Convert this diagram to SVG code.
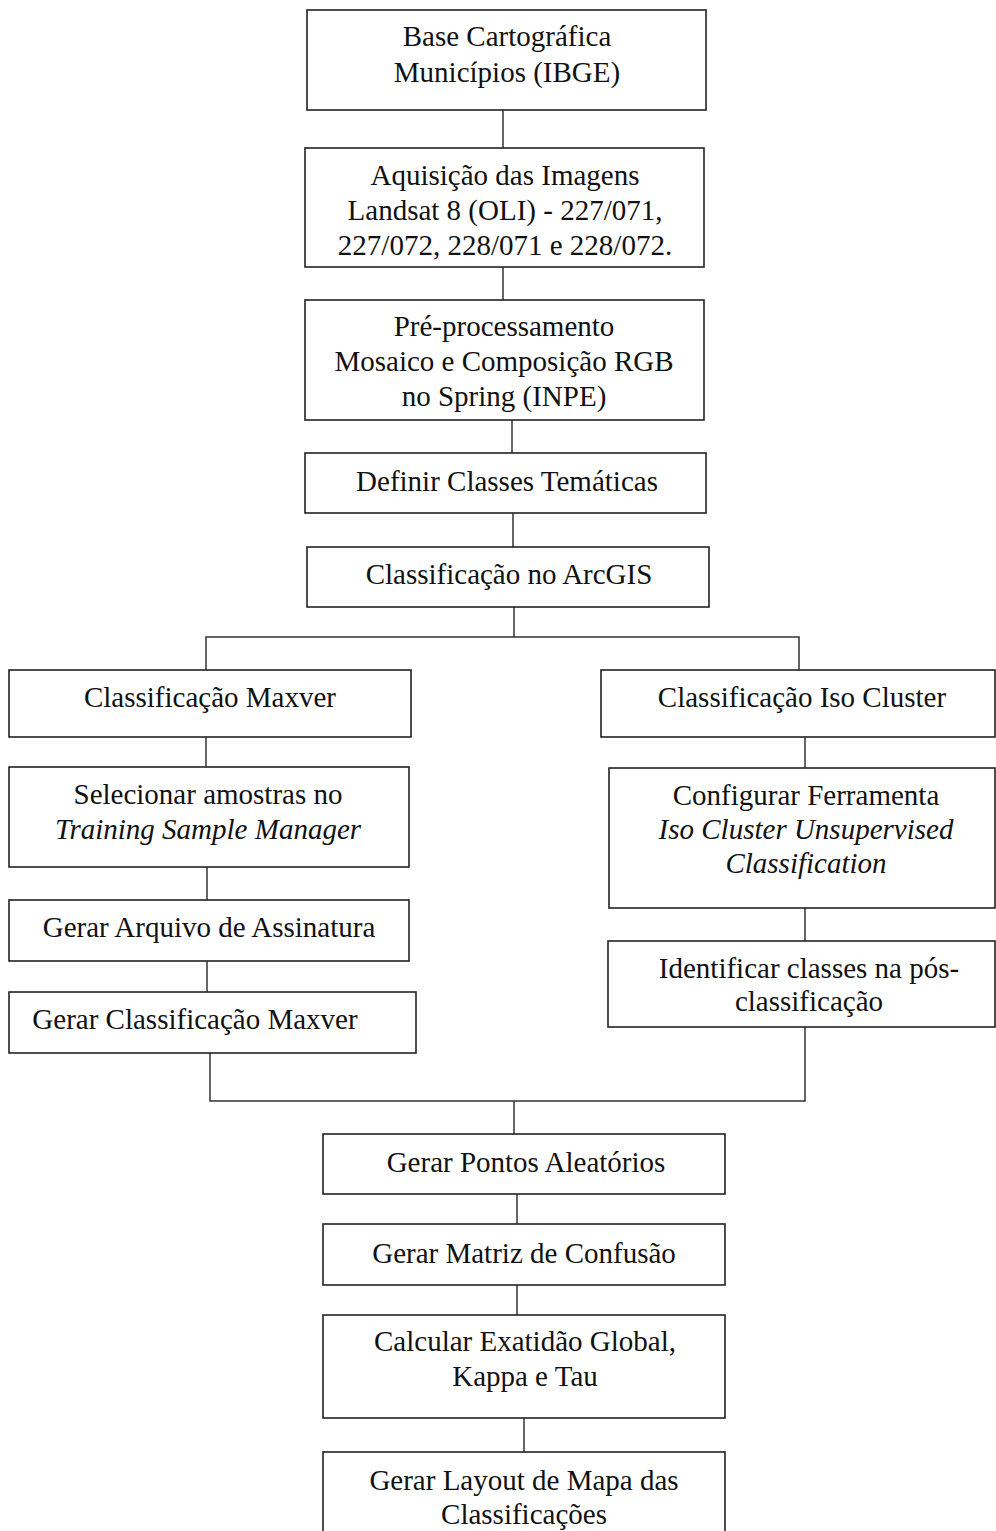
<svg xmlns="http://www.w3.org/2000/svg" width="996" height="1531" viewBox="0 0 996 1531">
<style>
.b{fill:#fff;stroke:#222;stroke-width:1.6}
.c{fill:none;stroke:#333;stroke-width:1.5}
text{font-family:"Liberation Serif","Times New Roman",serif;font-size:29px;fill:#111;text-anchor:middle}
.i{font-style:italic}
</style>
<rect width="996" height="1531" fill="#fff"/>
<g id="connectors">
<line class="c" x1="503" y1="110" x2="503" y2="148"/>
<line class="c" x1="503" y1="267" x2="503" y2="300"/>
<line class="c" x1="512" y1="420" x2="512" y2="453"/>
<line class="c" x1="513" y1="513" x2="513" y2="547"/>
<line class="c" x1="514" y1="607" x2="514" y2="637"/>
<polyline class="c" points="206,670 206,637 799,637 799,670"/>
<line class="c" x1="206" y1="737" x2="206" y2="767"/>
<line class="c" x1="207" y1="867" x2="207" y2="900"/>
<line class="c" x1="207" y1="961" x2="207" y2="992"/>
<line class="c" x1="805" y1="737" x2="805" y2="768"/>
<line class="c" x1="805" y1="908" x2="805" y2="941"/>
<polyline class="c" points="210,1053 210,1101 805,1101 805,1027"/>
<line class="c" x1="514" y1="1101" x2="514" y2="1134"/>
<line class="c" x1="517" y1="1194" x2="517" y2="1224"/>
<line class="c" x1="517" y1="1285" x2="517" y2="1315"/>
<line class="c" x1="524" y1="1418" x2="524" y2="1452"/>
</g>
<g id="n1"><rect class="b" x="307" y="10" width="399" height="100"/>
<text x="507" y="46">Base Cartográfica</text><text x="507" y="82">Municípios (IBGE)</text></g>
<g id="n2"><rect class="b" x="305" y="148" width="399" height="119"/>
<text x="505" y="185">Aquisição das Imagens</text><text x="505" y="220">Landsat 8 (OLI) - 227/071,</text><text x="505" y="255">227/072, 228/071 e 228/072.</text></g>
<g id="n3"><rect class="b" x="305" y="300" width="399" height="120"/>
<text x="504" y="336">Pré-processamento</text><text x="504" y="371">Mosaico e Composição RGB</text><text x="504" y="406">no Spring (INPE)</text></g>
<g id="n4"><rect class="b" x="305" y="453" width="401" height="60"/>
<text x="507" y="491">Definir Classes Temáticas</text></g>
<g id="n5"><rect class="b" x="307" y="547" width="402" height="60"/>
<text x="509" y="584">Classificação no ArcGIS</text></g>
<g id="n6"><rect class="b" x="9" y="670" width="402" height="67"/>
<text x="210" y="707">Classificação Maxver</text></g>
<g id="n7"><rect class="b" x="9" y="767" width="400" height="100"/>
<text x="208" y="804">Selecionar amostras no</text><text class="i" x="208" y="839">Training Sample Manager</text></g>
<g id="n8"><rect class="b" x="9" y="900" width="400" height="61"/>
<text x="209" y="937">Gerar Arquivo de Assinatura</text></g>
<g id="n9"><rect class="b" x="9" y="992" width="407" height="61"/>
<text x="195" y="1029">Gerar Classificação Maxver</text></g>
<g id="n10"><rect class="b" x="601" y="670" width="394" height="67"/>
<text x="802" y="707">Classificação Iso Cluster</text></g>
<g id="n11"><rect class="b" x="609" y="768" width="386" height="140"/>
<text x="806" y="805">Configurar Ferramenta</text><text class="i" x="806" y="839">Iso Cluster Unsupervised</text><text class="i" x="806" y="873">Classification</text></g>
<g id="n12"><rect class="b" x="608" y="941" width="387" height="86"/>
<text x="809" y="978">Identificar classes na pós-</text><text x="809" y="1011">classificação</text></g>
<g id="n13"><rect class="b" x="323" y="1134" width="402" height="60"/>
<text x="526" y="1172">Gerar Pontos Aleatórios</text></g>
<g id="n14"><rect class="b" x="323" y="1224" width="402" height="61"/>
<text x="524" y="1263">Gerar Matriz de Confusão</text></g>
<g id="n15"><rect class="b" x="323" y="1315" width="402" height="103"/>
<text x="525" y="1351">Calcular Exatidão Global,</text><text x="525" y="1386">Kappa e Tau</text></g>
<g id="n16"><rect class="b" x="323" y="1452" width="402" height="90"/>
<text x="524" y="1490">Gerar Layout de Mapa das</text><text x="524" y="1524">Classificações</text></g>
</svg>
